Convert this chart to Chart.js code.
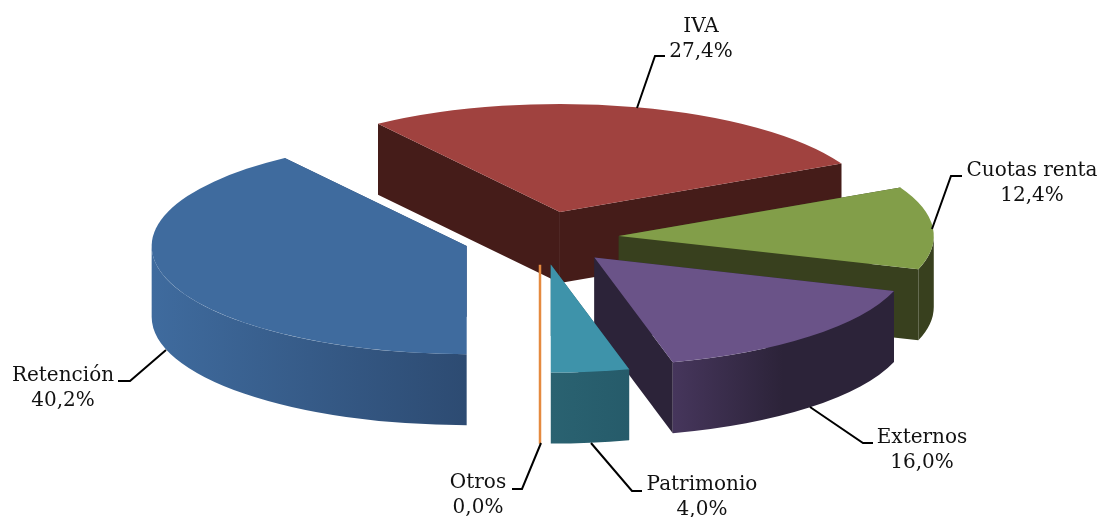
<!DOCTYPE html>
<html><head><meta charset="utf-8">
<style>html,body{margin:0;padding:0;background:#fff}canvas{display:block}</style>
<script src="https://cdn.jsdelivr.net/npm/chart.js@4"></script>
</head><body>
<canvas id="c" width="1101" height="517"></canvas>
<script>
const categories = ['Retención','IVA','Cuotas renta','Externos','Patrimonio','Otros'];
const values = [40.2,27.4,12.4,16.0,4.0,0.0];
const topColors = ['#3f6b9e','#a0423f','#829e49','#6a5388','#3e93aa','#e58a3f'];
const sideColors = ['#2d4b72','#451c19','#38401e','#2c2339','#265b6a','#e58a3f'];
const wallFrom = ['#3f6b9e','#451c19','#38401e','#46365c','#2a6271','#e58a3f'];
const drawOrder = [1,2,3,0,4,5];
const labelAnchors = [[63,381],[701,32],[1032,176],[922,443],[702,490],[478,488]];
const leaders = [
 [[118,381],[130,381],[166,350]],
 [[665,56],[655,56],[637,108]],
 [[962,176],[951,176],[932,229]],
 [[873,443],[863,443],[810,407]],
 [[642,491],[632,491],[591,443]],
 [[512,489],[522,489],[541,443]]
];
const SQUASH = 0.343, DEPTH = 71, EXPLODE = 78, RADIUS = 315;

const pie3d = {
  id:'pie3d',
  beforeDatasetsDraw(chart){
    const ctx = chart.ctx, arcs = chart.getDatasetMeta(0).data;
    const TAU = Math.PI*2;
    drawOrder.forEach(i=>{
      const arc = arcs[i];
      const {x,y,startAngle:s,endAngle:e,outerRadius:r} = arc.getProps(['x','y','startAngle','endAngle','outerRadius']);
      const mid = (s+e)/2;
      const cx = x + Math.cos(mid)*EXPLODE;
      const cy = y + Math.sin(mid)*EXPLODE*SQUASH;
      const ry = r*SQUASH;
      const px = a=>cx+r*Math.cos(a), py = a=>cy+ry*Math.sin(a);
      if (e-s < 1e-6){
        ctx.save();
        ctx.strokeStyle = topColors[i]; ctx.lineWidth = 2.5;
        ctx.beginPath(); ctx.moveTo(cx-1,cy); ctx.lineTo(cx-1,py(s)+DEPTH); ctx.stroke();
        ctx.restore();
        return;
      }
      // cut faces first, flat colour
      ctx.fillStyle = sideColors[i];
      [s,e].forEach(a=>{
        ctx.beginPath();
        ctx.moveTo(cx,cy); ctx.lineTo(px(a),py(a));
        ctx.lineTo(px(a),py(a)+DEPTH); ctx.lineTo(cx,cy+DEPTH);
        ctx.closePath(); ctx.fill();
      });
      // outer wall: only the part that faces the viewer
      for (let k=0;k<2;k++){
        const a0 = Math.max(s,k*TAU), a1 = Math.min(e,k*TAU+Math.PI);
        if (a1<=a0) continue;
        const x0 = Math.min(px(a0),px(a1)), x1 = Math.max(px(a0),px(a1));
        const g = ctx.createLinearGradient(x0,0,i===3?x0+110:x1,0);
        g.addColorStop(0,wallFrom[i]); g.addColorStop(1,sideColors[i]);
        ctx.fillStyle = g;
        ctx.beginPath();
        ctx.ellipse(cx,cy,r,ry,0,a0,a1);
        ctx.ellipse(cx,cy+DEPTH,r,ry,0,a1,a0,true);
        ctx.closePath(); ctx.fill();
      }
      // top face: the library's own arc, squashed
      ctx.save();
      ctx.translate(cx,cy); ctx.scale(1,SQUASH); ctx.translate(-x,-y);
      arc.draw(ctx);
      ctx.restore();
    });
    return false;
  },
  afterDraw(chart){
    const ctx = chart.ctx;
    ctx.save();
    ctx.strokeStyle='#000'; ctx.lineWidth=2; ctx.lineJoin='miter';
    leaders.forEach(l=>{
      ctx.beginPath(); l.forEach((p,j)=> j?ctx.lineTo(p[0],p[1]):ctx.moveTo(p[0],p[1])); ctx.stroke();
    });
    ctx.fillStyle='#111'; ctx.font='20px "DejaVu Serif"'; ctx.textAlign='center'; ctx.textBaseline='alphabetic';
    categories.forEach((c,i)=>{
      const [ax,ay]=labelAnchors[i];
      ctx.fillText(c,ax,ay);
      ctx.fillText(values[i].toFixed(1).replace('.',',')+'%',ax,ay+25);
    });
    ctx.restore();
  }
};

new Chart(document.getElementById('c'),{
  type:'pie',
  data:{labels:categories,datasets:[{data:values,backgroundColor:topColors,borderWidth:0,radius:RADIUS}]},
  options:{
    responsive:false,animation:false,rotation:180,
    layout:{padding:{right:19,bottom:41}},
    plugins:{legend:{display:false},tooltip:{enabled:false}}
  },
  plugins:[pie3d]
});
</script>
</body></html>
